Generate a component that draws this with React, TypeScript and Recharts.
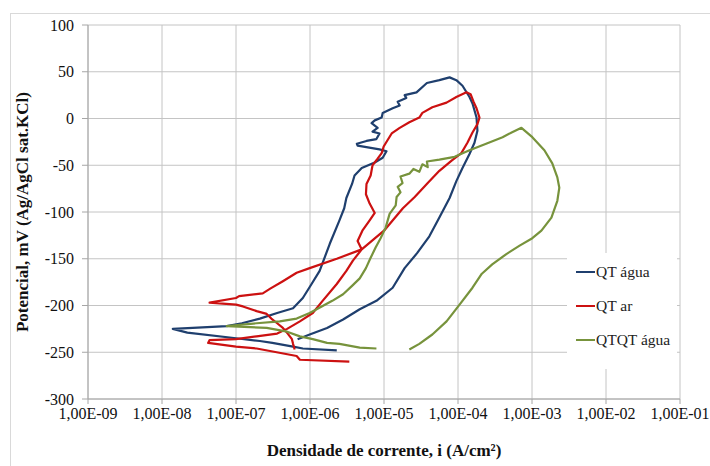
import { LineChart, Line, XAxis, YAxis, CartesianGrid, Legend } from 'recharts';

type Point = [number, number]; // [current density A/cm², potential mV]

const serif = "'Liberation Serif', 'Times New Roman', serif";

const decades = [1e-9, 1e-8, 1e-7, 1e-6, 1e-5, 1e-4, 1e-3, 1e-2, 1e-1];
const potentialTicks = [-300, -250, -200, -150, -100, -50, 0, 50, 100];

const qtAgua: Point[] = [
  [2.3e-6, -248], [8.0e-7, -246], [5.9e-7, -244], [3.1e-7, -240], [2.1e-7, -238],
  [1.0e-7, -235], [2.2e-8, -229], [1.4e-8, -225], [2.6e-8, -224], [7.5e-8, -222],
  [1.2e-7, -219], [2.1e-7, -214], [3.6e-7, -208], [5.9e-7, -203], [8.0e-7, -192],
  [1.05e-6, -177], [1.35e-6, -163], [1.85e-6, -134], [2.5e-6, -109], [2.9e-6, -96],
  [3.1e-6, -85], [3.7e-6, -70], [4.0e-6, -61], [5.0e-6, -53], [7.5e-6, -47],
  [9.6e-6, -42], [1.08e-5, -35], [8.7e-6, -33], [4.4e-6, -29], [4.3e-6, -27],
  [5.8e-6, -24], [7.9e-6, -22], [8.7e-6, -16], [7.0e-6, -14], [8.2e-6, -10],
  [6.8e-6, -5], [7.5e-6, -2], [9.3e-6, 1], [9.6e-6, 6], [1.31e-5, 11],
  [1.63e-5, 14], [1.53e-5, 18], [2.0e-5, 22], [1.9e-5, 25], [2.75e-5, 28],
  [3.8e-5, 38], [5.6e-5, 41], [7.7e-5, 44], [9.5e-5, 41], [1.15e-4, 35],
  [1.43e-4, 23], [1.57e-4, 16], [1.78e-4, 1], [1.83e-4, -13], [1.67e-4, -26],
  [1.43e-4, -38], [1.15e-4, -53], [9.5e-5, -67], [7.7e-5, -85], [5.6e-5, -106],
  [4.1e-5, -126], [2.8e-5, -144], [1.9e-5, -160], [1.31e-5, -181], [7.9e-6, -195],
  [4.7e-6, -204], [2.8e-6, -215], [1.7e-6, -224], [9.9e-7, -231], [6.8e-7, -236],
];

const qtAr: Point[] = [
  [3.4e-6, -260], [7.3e-7, -258], [6.6e-7, -254], [1.9e-7, -246], [1.0e-7, -244],
  [4.2e-8, -240], [4.4e-8, -237], [1.0e-7, -236], [1.9e-7, -233], [3.6e-7, -230],
  [4.9e-7, -225], [7.3e-7, -217], [1.09e-6, -208], [1.48e-6, -195], [2.3e-6, -177],
  [3.1e-6, -163], [3.8e-6, -152], [5.0e-6, -140], [4.4e-6, -131], [5.1e-6, -120],
  [6.4e-6, -109], [7.5e-6, -101], [6.4e-6, -91], [5.7e-6, -81], [5.8e-6, -70],
  [6.6e-6, -61], [7.0e-6, -50], [8.2e-6, -43], [9.3e-6, -37], [9.9e-6, -30],
  [1.12e-5, -23], [1.27e-5, -16], [1.63e-5, -10], [2.2e-5, -4], [3.0e-5, 1],
  [3.3e-5, 6], [4.5e-5, 12], [7.0e-5, 17], [9.5e-5, 23], [1.3e-4, 28],
  [1.48e-4, 26], [1.62e-4, 18], [1.78e-4, 11], [1.95e-4, 1], [1.83e-4, -6],
  [1.57e-4, -15], [1.34e-4, -26], [1.11e-4, -37], [8.2e-5, -45], [5.6e-5, -56],
  [3.9e-5, -69], [2.6e-5, -84], [1.8e-5, -96], [1.0e-5, -120], [5.0e-6, -140],
  [2.3e-6, -150], [9.9e-7, -160], [6.6e-7, -165], [4.3e-7, -174], [2.9e-7, -182],
  [2.3e-7, -187], [1.1e-7, -190], [1.0e-7, -192], [4.4e-8, -197], [1.0e-7, -199],
  [1.24e-7, -201], [1.9e-7, -206], [2.6e-7, -209], [3.0e-7, -214], [3.6e-7, -219],
  [4.3e-7, -224], [5.0e-7, -230], [5.7e-7, -236], [5.9e-7, -241], [6.2e-7, -247],
];

const qtqtAgua: Point[] = [
  [7.9e-6, -246], [4.7e-6, -245], [2.5e-6, -241], [1.7e-6, -240], [1.09e-6, -236],
  [7.3e-7, -233], [4.9e-7, -228], [2.6e-7, -224], [7.5e-8, -222], [1.9e-7, -219],
  [3.9e-7, -217], [6.6e-7, -214], [9.9e-7, -208], [1.44e-6, -201], [2.0e-6, -195],
  [2.8e-6, -188], [3.7e-6, -179], [4.7e-6, -171], [5.7e-6, -160], [6.6e-6, -149],
  [7.7e-6, -138], [9.0e-6, -128], [1.05e-5, -117], [1.19e-5, -102], [1.44e-5, -93],
  [1.48e-5, -84], [1.67e-5, -79], [1.53e-5, -73], [1.78e-5, -69], [1.67e-5, -62],
  [2.2e-5, -59], [2.5e-5, -54], [3.0e-5, -57], [3.3e-5, -49], [3.9e-5, -52],
  [3.8e-5, -46], [5.6e-5, -44], [9.0e-5, -41], [1.43e-4, -34], [2.4e-4, -27],
  [4.0e-4, -20], [5.3e-4, -15], [7.2e-4, -10], [1.01e-3, -20], [1.47e-3, -34],
  [1.88e-3, -48], [2.2e-3, -63], [2.34e-3, -74], [2.2e-3, -88], [1.83e-3, -106],
  [1.34e-3, -120], [1.01e-3, -128], [6.8e-4, -136], [4.5e-4, -145], [2.9e-4, -156],
  [2.1e-4, -166], [1.57e-4, -181], [1.05e-4, -199], [7.0e-5, -217], [4.5e-5, -231],
  [3.0e-5, -241], [2.2e-5, -247],
];

const series = [
  { name: 'QT água', color: '#1f3f6e', points: qtAgua },
  { name: 'QT ar', color: '#cc1111', points: qtAr },
  { name: 'QTQT água', color: '#77933c', points: qtqtAgua },
];

const toRows = (pts: Point[]) => pts.map(([i, e]) => ({ i, e }));

function formatDecade(v: number) {
  const exp = Math.round(Math.log10(v));
  const sign = exp < 0 ? '-' : '+';
  return `1,00E${sign}${String(Math.abs(exp)).padStart(2, '0')}`;
}

const tickStyle = { fontSize: 16, fill: '#111', fontFamily: serif };

function LegendList() {
  return (
    <div style={{ background: '#fff', width: 110, height: 116, paddingTop: 2, boxSizing: 'border-box' }}>
      {series.map((s) => (
        <div
          key={s.name}
          style={{ display: 'flex', alignItems: 'center', height: 34, paddingLeft: 9 }}
        >
          <span style={{ display: 'inline-block', width: 19, height: 2, background: s.color }} />
          <span style={{ fontFamily: serif, fontSize: 15.5, color: '#222', marginLeft: 1 }}>
            {s.name}
          </span>
        </div>
      ))}
    </div>
  );
}

export default function App() {
  return (
    <div
      style={{
        position: 'absolute',
        left: 0,
        top: 0,
        width: 710,
        height: 466,
        background: '#fff',
        overflow: 'hidden',
        fontFamily: serif,
      }}
    >
      {/* light frame around the chart area */}
      <div
        style={{
          position: 'absolute',
          left: 10,
          top: 13,
          width: 720,
          height: 470,
          border: '1px solid #d9d9d9',
        }}
      />
      <LineChart
        width={710}
        height={466}
        margin={{ top: 25, right: 30, left: 8, bottom: 7 }}
        style={{ position: 'absolute', left: 0, top: 0 }}
      >
        <CartesianGrid stroke="#c4c4c4" strokeWidth={1} />
        <XAxis
          dataKey="i"
          type="number"
          scale="log"
          domain={[1e-9, 1e-1]}
          ticks={decades}
          allowDataOverflow
          tickFormatter={formatDecade}
          height={60}
          stroke="#a6a6a6"
          tickSize={5}
          tickMargin={4}
          tick={tickStyle}
          label={{
            value: 'Densidade de corrente, i (A/cm²)',
            position: 'insideBottom',
            offset: 3,
            style: { fontSize: 17, fontWeight: 700, fill: '#111', fontFamily: serif },
          }}
        />
        <YAxis
          type="number"
          domain={[-300, 100]}
          ticks={potentialTicks}
          allowDataOverflow
          width={80}
          stroke="#a6a6a6"
          tickSize={6}
          tickMargin={8}
          tick={tickStyle}
          label={{
            value: 'Potencial, mV (Ag/AgCl sat.KCl)',
            angle: -90,
            position: 'insideLeft',
            offset: 14,
            style: { textAnchor: 'middle', fontSize: 17, fontWeight: 700, fill: '#111', fontFamily: serif },
          }}
        />
        {series.map((s) => (
          <Line
            key={s.name}
            name={s.name}
            data={toRows(s.points)}
            dataKey="e"
            type="linear"
            stroke={s.color}
            strokeWidth={2.2}
            strokeLinejoin="round"
            dot={false}
            isAnimationActive={false}
          />
        ))}
        <Legend
          layout="vertical"
          align="center"
          verticalAlign="middle"
          content={() => <LegendList />}
          wrapperStyle={{ left: 567, top: 253, width: 110, height: 116 }}
        />
      </LineChart>
    </div>
  );
}
